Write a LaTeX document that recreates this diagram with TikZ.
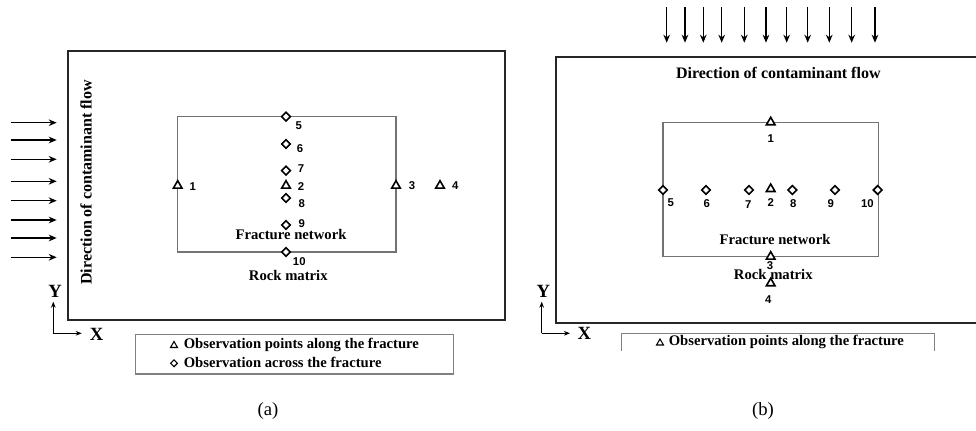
\documentclass[tikz,border=0pt]{standalone}
\usepackage{fontspec}
\setmainfont{Liberation Serif}
\newfontfamily\numfont{Liberation Sans}
\usetikzlibrary{shapes.geometric,arrows.meta}
\begin{document}
\begin{tikzpicture}[x=0.75pt,y=-0.75pt,
 tri/.style={regular polygon,regular polygon sides=3,draw=black,line width=1.2pt,fill=white,inner sep=0pt,minimum size=7.5pt},
 dia/.style={diamond,draw=black,line width=1.2pt,fill=white,inner sep=0pt,minimum size=7pt},
 ltri/.style={regular polygon,regular polygon sides=3,draw=black,line width=0.8pt,inner sep=0pt,minimum size=6pt},
 ldia/.style={diamond,draw=black,line width=0.8pt,inner sep=0pt,minimum size=5.5pt},
 num/.style={font=\numfont\bfseries\fontsize{8.5}{10}\selectfont,inner sep=0pt},
 lbl/.style={font=\bfseries\fontsize{11}{13}\selectfont,inner sep=0pt},
 dirlbl/.style={font=\bfseries\fontsize{12}{14}\selectfont,inner sep=0pt},
 leg/.style={font=\bfseries\fontsize{11}{13}\selectfont,inner sep=0pt,anchor=west},
 captxt/.style={font=\fontsize{14}{16}\selectfont,inner sep=0pt},
 axlbl/.style={font=\bfseries\fontsize{14}{16}\selectfont,inner sep=0pt},
 outerbox/.style={line width=1.6pt,draw=black!85},
 innerbox/.style={line width=0.8pt,draw=black!55},
 flow/.style={-{Stealth[length=6pt,width=5pt]},line width=1pt},
 axis/.style={-{Stealth[length=4.5pt,width=3.5pt]},line width=1pt},
 legbox/.style={draw=black!50,line width=0.8pt}]
\useasboundingbox (0,0) rectangle (976,431);

% ================= panel (a) =================
\draw[outerbox] (68.3,50.7) rectangle (505,320);
\draw[innerbox] (177.7,116.7) rectangle (396,252);
\foreach \y in {122.7,140,159.3,181.3,200.7,220,238,257.3}
  \draw[flow] (10.7,\y) -- (56.7,\y);
\node[dirlbl,rotate=90] (dirA) at (86,182.5) {Direction of contaminant flow};

\node[dia] (a5) at (286,116.7) {};
\node[dia] (a6) at (286,144) {};
\node[dia] (a7) at (286,170.7) {};
\node[tri] (a2) at (286,185.7) {};
\node[dia] (a8) at (286,198) {};
\node[dia] (a9) at (286,225) {};
\node[dia] (a10) at (286,252) {};
\node[tri] (a1) at (177.7,185.7) {};
\node[tri] (a3) at (396,185.7) {};
\node[tri] (a4) at (440,185.7) {};

\node[num] (la5) at (298.7,126) {5};
\node[num] (la6) at (300,149) {6};
\node[num] (la7) at (301,169) {7};
\node[num] (la2) at (301,186.7) {2};
\node[num] (la8) at (301.7,203.3) {8};
\node[num] (la9) at (301.7,223.3) {9};
\node[num] (la10) at (299.3,261.3) {10};
\node[num] (la1) at (192.7,186.7) {1};
\node[num] (la3) at (412,185.7) {3};
\node[num] (la4) at (455.3,185.7) {4};

\node[lbl] (fnA) at (291,235) {Fracture network};
\node[lbl] (rmA) at (288.3,275.3) {Rock matrix};

\coordinate (oA) at (53.3,333.3);
\coordinate (oAy) at (53.3,301.7);
\coordinate (oAx) at (81.7,333.3);
\draw[axis] (oA) -- (oAy);
\draw[axis] (oA) -- (oAx);
\node[axlbl] (yA) at (55,291.7) {Y};
\node[axlbl] (xA) at (96.7,334) {X};

\draw[legbox] (135.7,334.3) rectangle (453.3,374);
\node[ltri] (lgtA) at (174,345.5) {};
\node[leg] (lgtxtA) at (183.5,344.5) {Observation points along the fracture};
\node[ldia] (lgdA) at (174,363.3) {};
\node[leg] (lgdxtA) at (183.5,362.5) {Observation across the fracture};

\node[captxt] (capA) at (268,411) {(a)};

% ================= panel (b) =================
\draw[outerbox] (976,56.7) -- (555.7,56.7) -- (555.7,323.3) -- (976,323.3);
\draw[innerbox] (663,122.3) rectangle (878.3,256.7);
\foreach \x in {666.7,685,703.3,721.7,744.3,766,786.7,807.7,829.3,851.7,875}
  \draw[flow] (\x,7.3) -- (\x,42.7);
\node[dirlbl] (dirB) at (778.3,73.3) {Direction of contaminant flow};

\node[tri] (b1) at (770.7,122.3) {};
\node[dia] (b5) at (663,190) {};
\node[dia] (b6) at (706,190) {};
\node[dia] (b7) at (749,190) {};
\node[tri] (b2) at (770.7,189) {};
\node[dia] (b8) at (792.3,190) {};
\node[dia] (b9) at (835,190) {};
\node[dia] (b10) at (877.7,190) {};
\node[tri] (b3) at (770.7,256.7) {};
\node[tri] (b4) at (770.7,283.3) {};

\node[num] (lb1) at (770.7,138.3) {1};
\node[num] (lb5) at (670.7,202.7) {5};
\node[num] (lb6) at (706.7,204) {6};
\node[num] (lb7) at (748.3,205) {7};
\node[num] (lb2) at (770.7,202.7) {2};
\node[num] (lb8) at (793.3,203.3) {8};
\node[num] (lb9) at (830.7,204) {9};
\node[num] (lb10) at (867.3,203.3) {10};
\node[num] (lb3) at (770,265.7) {3};
\node[num] (lb4) at (768.3,300) {4};

\node[lbl] (fnB) at (775,240) {Fracture network};
\node[lbl] (rmB) at (773.3,274) {Rock matrix};

\coordinate (oB) at (541.7,333.3);
\coordinate (oBy) at (541.7,301.7);
\coordinate (oBx) at (570,333.3);
\draw[axis] (oB) -- (oBy);
\draw[axis] (oB) -- (oBx);
\node[axlbl] (yB) at (543.3,291) {Y};
\node[axlbl] (xB) at (584.3,333.3) {X};

\draw[legbox] (621.7,350.7) -- (621.7,333.3) -- (934.3,333.3) -- (934.3,350.7);
\node[ltri] (lgtB) at (660,343) {};
\node[leg] (lgtxtB) at (668.5,342) {Observation points along the fracture};

\node[captxt] (capB) at (763,411) {(b)};
\end{tikzpicture}
\end{document}
